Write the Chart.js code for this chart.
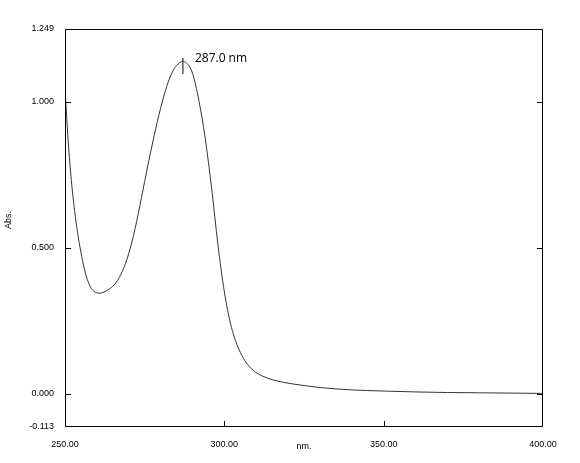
<!DOCTYPE html>
<html>
<head>
<meta charset="utf-8">
<script src="https://cdn.jsdelivr.net/npm/chart.js@4"></script>
<style>
html,body{margin:0;padding:0;background:#fff;}
#wrap{width:580px;height:463px;position:relative;}
</style>
</head>
<body>
<div id="wrap"><canvas id="c" width="580" height="463"></canvas></div>
<script>
// ---- data ----
const wavelengths = [250, 251, 252, 253, 254, 255, 256, 257, 258, 259, 260, 261, 262, 264, 266, 268, 270, 272, 274, 276, 278, 280, 282, 284, 286, 287, 288, 290, 292, 294, 296, 298, 300, 302, 304, 306, 308, 310, 312, 315, 320, 325, 330, 340, 350, 360, 370, 380, 390, 400];
const absorbance = [1.045, 0.865, 0.73, 0.628, 0.548, 0.485, 0.432, 0.392, 0.366, 0.352, 0.346, 0.345, 0.348, 0.36, 0.381, 0.42, 0.48, 0.566, 0.672, 0.782, 0.885, 0.978, 1.055, 1.108, 1.134, 1.138, 1.134, 1.098, 1.005, 0.875, 0.705, 0.51, 0.35, 0.238, 0.168, 0.122, 0.092, 0.073, 0.061, 0.049, 0.037, 0.029, 0.022, 0.014, 0.010, 0.007, 0.005, 0.004, 0.003, 0.002];
const peakNm = 287.0;
const peakMarkAbs = [1.095, 1.15];
const peakLabel = "287.0 nm";
const xTickValues = [250, 300, 350, 400];
const yTickValues = [-0.113, 0, 0.5, 1.0, 1.249];
const xMin = 250, xMax = 400, yMin = -0.113, yMax = 1.249;
const xTitle = "nm.";
const yTitle = "Abs.";

const spectrum = wavelengths.map((w, i) => ({x: w, y: absorbance[i]}));
const peakMark = peakMarkAbs.map(a => ({x: peakNm, y: a}));

const framePlugin = {
  id: 'frame',
  afterDraw(chart) {
    const ctx = chart.ctx;
    const a = chart.chartArea;
    const xs = chart.scales.x, ys = chart.scales.y;
    ctx.save();
    ctx.strokeStyle = '#000';
    ctx.lineWidth = 1;
    ctx.strokeRect(Math.round(a.left) + 0.5, Math.round(a.top) + 0.5,
                   Math.round(a.right - a.left) - 1, Math.round(a.bottom - a.top) - 1);
    ctx.beginPath();
    yTickValues.forEach(v => {
      if (v <= yMin || v >= yMax) return;
      const py = Math.round(ys.getPixelForValue(v)) + 0.5;
      ctx.moveTo(a.left, py); ctx.lineTo(a.left + 6, py);
      ctx.moveTo(a.right, py); ctx.lineTo(a.right - 6, py);
    });
    xTickValues.forEach(v => {
      if (v <= xMin || v >= xMax) return;
      const px = Math.round(xs.getPixelForValue(v)) + 0.5;
      ctx.moveTo(px, a.bottom); ctx.lineTo(px, a.bottom - 6);
    });
    ctx.stroke();
    ctx.fillStyle = '#000';
    ctx.font = '12px "Open Sans", sans-serif';
    ctx.textBaseline = 'middle';
    ctx.textAlign = 'left';
    ctx.fillText(peakLabel, xs.getPixelForValue(peakNm) + 12, ys.getPixelForValue(peakMarkAbs[1]) + 0.5);
    ctx.font = '9px "Liberation Sans", Arial, sans-serif';
    ctx.textAlign = 'center';
    ctx.fillText(xTitle, (a.left + a.right) / 2, a.bottom + 20);
    ctx.save();
    ctx.translate(9, (a.top + a.bottom) / 2 - 8);
    ctx.rotate(-Math.PI / 2);
    ctx.fillText(yTitle, 0, 0);
    ctx.restore();
    ctx.restore();
  }
};

new Chart(document.getElementById('c'), {
  type: 'line',
  data: {
    datasets: [
      {data: spectrum, borderColor: '#333', borderWidth: 1, pointRadius: 0, cubicInterpolationMode: 'monotone', fill: false},
      {data: peakMark, borderColor: '#000', borderWidth: 1, pointRadius: 0, fill: false}
    ]
  },
  options: {
    responsive: false,
    animation: false,
    events: [],
    layout: {padding: {top: 29, right: 37, left: 0, bottom: 0}},
    plugins: {legend: {display: false}, tooltip: {enabled: false}},
    scales: {
      x: {
        type: 'linear', min: xMin, max: xMax,
        grid: {display: false}, border: {display: false},
        afterBuildTicks: s => { s.ticks = xTickValues.map(v => ({value: v})); },
        afterFit: s => { s.height = 36; },
        ticks: {autoSkip: false, maxRotation: 0, padding: 4, color: '#000',
                font: {family: '"Liberation Sans", Arial, sans-serif', size: 9},
                callback: v => Number(v).toFixed(2)}
      },
      y: {
        type: 'linear', min: yMin, max: yMax,
        grid: {display: false}, border: {display: false},
        afterBuildTicks: s => { s.ticks = yTickValues.map(v => ({value: v})); },
        afterFit: s => { s.width = 65; },
        ticks: {autoSkip: false, padding: 3, color: '#000',
                font: {family: '"Liberation Sans", Arial, sans-serif', size: 9},
                callback: v => Number(v).toFixed(3)}
      }
    }
  },
  plugins: [framePlugin]
});
</script>
</body>
</html>
